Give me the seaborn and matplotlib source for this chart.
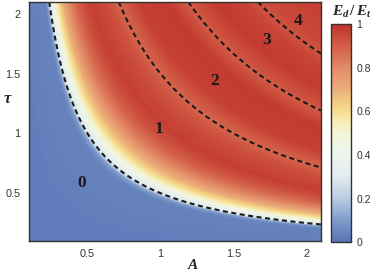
import numpy as np
import matplotlib.pyplot as plt
import seaborn as sns
from matplotlib.colors import LinearSegmentedColormap

# axis ranges and ticks
A_lim = [0.1, 2.1]
tau_lim = [0.1, 2.1]
x_ticks = [0.5, 1, 1.5, 2]
y_ticks = [0.5, 1, 1.5, 2]
cbar_ticks = [0, 0.2, 0.4, 0.6, 0.8, 1]

prod_knots = [0.0, 0.44, 0.48, 0.5, 0.55, 0.62, 0.7, 0.8, 0.9, 1.0, 1.1, 1.25,
              1.4, 1.5, 1.6, 1.8, 2.2, 2.4, 2.5, 2.6, 2.9, 3.3, 3.5, 3.7, 4.5]
ratio_knots = [0.02, 0.04, 0.12, 0.28, 0.42, 0.57, 0.7, 0.81, 0.89, 0.94, 0.97, 0.95,
               0.92, 0.88, 0.91, 0.97, 0.98, 0.93, 0.90, 0.93, 0.98, 0.96, 0.92, 0.95, 0.98]

# dashed boundaries (A*tau = const) and region numbers
boundary_levels = [0.5, 1.5, 2.5, 3.5]
region_labels = ['0', '1', '2', '3', '4']
label_A = [0.46, 0.99, 1.37, 1.73, 1.94]
label_tau = [0.585, 1.04, 1.44, 1.78, 1.94]

cmap_stops = [0.0, 0.1, 0.2, 0.3, 0.42, 0.5, 0.56, 0.62, 0.7, 0.8, 0.9, 1.0]
cmap_colors = ['#5874b6', '#7f9ccb', '#b8cce2', '#e2ecef', '#eef5ec', '#f5f4d6',
               '#f8ebae', '#f4d585', '#ecb07a', '#e38b66', '#d35f48', '#c0332c']

sns.set_theme(style='ticks')
plt.rcParams['font.family'] = ['Liberation Sans', 'DejaVu Sans']
plt.rcParams['mathtext.fontset'] = 'custom'
plt.rcParams['mathtext.it'] = 'Liberation Serif:italic:bold'
plt.rcParams['mathtext.rm'] = 'Liberation Serif:bold'
plt.rcParams['lines.dashed_pattern'] = [2.4, 1.7]

cmap = LinearSegmentedColormap.from_list('ed', list(zip(cmap_stops, cmap_colors)))

A = np.linspace(A_lim[0], A_lim[1], 500)
tau = np.linspace(tau_lim[0], tau_lim[1], 500)
AA, TT = np.meshgrid(A, tau)
P = AA * TT
E = np.interp(P, prod_knots, ratio_knots)

fig = plt.figure(figsize=(3.73, 2.72), dpi=100)
ax = fig.add_axes([0.078, 0.114, 0.783, 0.879])
cax = fig.add_axes([0.887, 0.110, 0.054, 0.801])

mesh = ax.pcolormesh(AA, TT, E, cmap=cmap, vmin=0, vmax=1, shading='gouraud', rasterized=True)
ax.contour(AA, TT, P, levels=boundary_levels, colors='k', linestyles='dashed', linewidths=1.5)

for lab, a, t in zip(region_labels, label_A, label_tau):
    ax.text(a, t, lab, ha='center', va='center', fontsize=12.5, fontweight='bold',
            family='Liberation Serif', color='k')

ax.set_xlim(A_lim)
ax.set_ylim(tau_lim)
ax.set_xticks(x_ticks)
ax.set_xticklabels(['0.5', '1', '1.5', '2'])
ax.set_yticks(y_ticks)
ax.set_yticklabels(['0.5', '1', '1.5', '2'])
ax.tick_params(direction='in', top=True, right=True, length=3, width=0.8,
               labelsize=7.8, colors='#333333', pad=6)
for s in ax.spines.values():
    s.set_linewidth(1.0)
    s.set_color('#333333')

ax.set_xlabel('A', fontsize=11, fontweight='bold', fontstyle='italic', family='Liberation Serif')
ax.xaxis.set_label_coords(0.56, -0.075)
ax.set_ylabel('τ', fontsize=12, fontweight='bold', fontstyle='italic', family='Liberation Serif',
              rotation=0)
ax.yaxis.set_label_coords(-0.075, 0.56)

cb = fig.colorbar(mesh, cax=cax, ticks=cbar_ticks)
cb.ax.set_yticklabels(['0', '0.2', '0.4', '0.6', '0.8', '1'])
cb.ax.tick_params(direction='in', length=3, width=0.8, labelsize=7.5, colors='#333333', pad=4)
cb.outline.set_linewidth(1.0)
cb.outline.set_edgecolor('#333333')
fig.text(0.944, 0.955, r'$E_d\,/\,E_t$', ha='center', va='center', fontsize=11)

fig.savefig('out.png', dpi=100)
